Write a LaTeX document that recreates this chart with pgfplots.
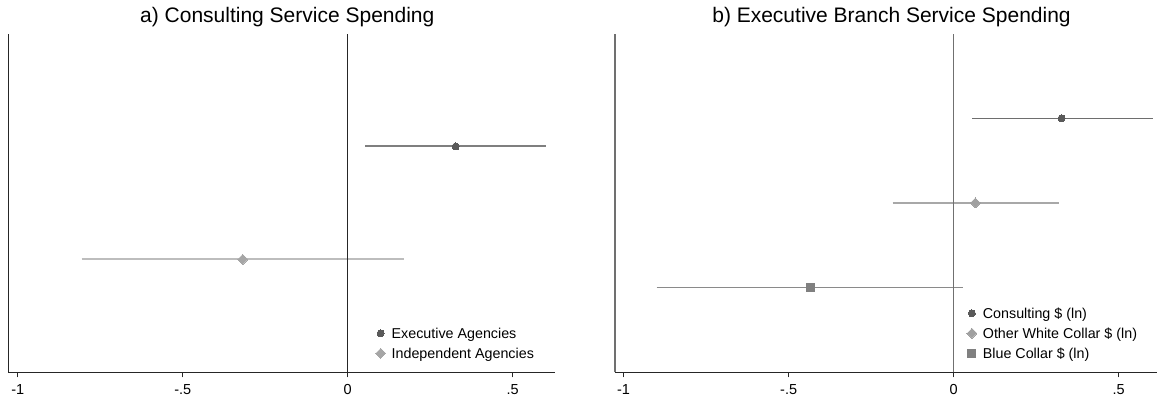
\documentclass[border=0pt]{standalone}
\usepackage{fontspec}
\setmainfont{Liberation Sans}
\usepackage{pgfplots}
\pgfplotsset{compat=1.18}

\definecolor{axisdark}{HTML}{262626}
\definecolor{axisgray}{HTML}{707070}
\definecolor{ptdark}{HTML}{5A5A5A}
\definecolor{cidark}{HTML}{7F7F7F}
\definecolor{ptlight}{HTML}{A6A6A6}
\definecolor{cilight}{HTML}{BDBDBD}
\definecolor{cibdark}{HTML}{6E6E6E}
\definecolor{ptmid}{HTML}{A0A0A0}
\definecolor{cimid}{HTML}{A8A8A8}
\definecolor{ptblue}{HTML}{808080}
\definecolor{ciblue}{HTML}{8A8A8A}

\newcommand{\tickfont}{\fontsize{14.5}{17}\selectfont}
\newcommand{\legfont}{\fontsize{14.3}{17}\selectfont}
\newcommand{\titlefont}{\fontsize{21}{25}\selectfont}

\pgfplotsset{
  coefpanel/.style={
    scale only axis,
    anchor=south west,
    height=338.7pt,
    ymin=0,
    axis x line*=bottom,
    axis y line*=left,
    x axis line style={-},
    y axis line style={-},
    ytick=\empty,
    xtick={-1,-0.5,0,0.5},
    xticklabels={-1,-.5,0,.5},
    tick align=outside,
    major tick length=5pt,
    xticklabel style={font=\tickfont, anchor=base, inner sep=0pt, yshift=-17pt},
    title style={at={(0.5,1)}, anchor=base, inner sep=0pt, yshift=5.3pt, xshift=5.5pt, font=\titlefont},
    clip=false,
    legend cell align=left,
    legend style={draw=none, fill=none, inner sep=0pt, outer sep=0pt,
      anchor=north west, font=\legfont, row sep=9.6pt,
      nodes={inner sep=0pt, text height=10.4pt, text depth=0pt, anchor=west},
      /tikz/every odd column/.append style={column sep=6pt}},
  },
  dotlegend/.style={legend image code/.code={\draw[##1] plot coordinates {(0pt,0pt)};}},
}

\begin{document}
\begin{tikzpicture}
\path[use as bounding box] (0,0) rectangle (1157pt,396pt);

% a) consulting spending, executive vs independent agencies
\begin{axis}[coefpanel,
  at={(8.3pt,23.7pt)}, width=547pt,
  xmin=-1.0285, xmax=0.629, ymax=3,
  axis line style={line width=1.2pt, color=axisdark},
  tick style={line width=1.2pt, color=axisdark},
  title={a) Consulting Service Spending},
  legend style={at={(0.6717,0.1305)}},
]
  \addplot[forget plot, color=cidark, line width=2pt] coordinates {(0.053,2) (0.601,2)};
  \addplot[forget plot, color=cilight, line width=2pt] coordinates {(-0.806,1) (0.172,1)};
  \addplot[forget plot, color=axisdark, line width=1.2pt] coordinates {(0,0) (0,3)};
  \addplot[dotlegend, only marks, mark=*, mark size=3.5pt, color=ptdark,
    mark options={fill=ptdark, draw=ptdark, line width=0pt}] coordinates {(0.327,2)};
  \addlegendentry{Executive Agencies}
  \addplot[dotlegend, only marks, mark=square*, mark size=3.5pt, color=ptlight,
    mark options={rotate=45, fill=ptlight, draw=ptlight, line width=0pt}] coordinates {(-0.318,1)};
  \addlegendentry{Independent Agencies}
\end{axis}

% b) executive branch spending by service type
\begin{axis}[coefpanel,
  at={(615pt,23.7pt)}, width=542pt,
  xmin=-1.026, xmax=0.616, ymax=4,
  x axis line style={line width=1.2pt, color=axisdark},
  y axis line style={line width=1.2pt, color=axisgray},
  tick style={line width=1.2pt, color=axisdark},
  title={b) Executive Branch Service Spending},
  legend style={at={(0.6494,0.1895)}},
]
  \addplot[forget plot, color=cibdark, line width=1.4pt] coordinates {(0.056,3) (0.603,3)};
  \addplot[forget plot, color=cimid, line width=1.4pt] coordinates {(-0.185,2) (0.318,2)};
  \addplot[forget plot, color=ciblue, line width=1.4pt] coordinates {(-0.900,1) (0.029,1)};
  \addplot[forget plot, color=axisgray, line width=1.2pt] coordinates {(0,0) (0,4)};
  \addplot[dotlegend, only marks, mark=*, mark size=3.5pt, color=ptdark,
    mark options={fill=ptdark, draw=ptdark, line width=0pt}] coordinates {(0.327,3)};
  \addlegendentry{Consulting \$ (ln)}
  \addplot[dotlegend, only marks, mark=square*, mark size=3.5pt, color=ptmid,
    mark options={rotate=45, fill=ptmid, draw=ptmid, line width=0pt}] coordinates {(0.066,2)};
  \addlegendentry{Other White Collar \$ (ln)}
  \addplot[dotlegend, only marks, mark=square*, mark size=4pt, color=ptblue,
    mark options={fill=ptblue, draw=ptblue, line width=0pt}] coordinates {(-0.435,1)};
  \addlegendentry{Blue Collar \$ (ln)}
\end{axis}
\end{tikzpicture}
\end{document}
